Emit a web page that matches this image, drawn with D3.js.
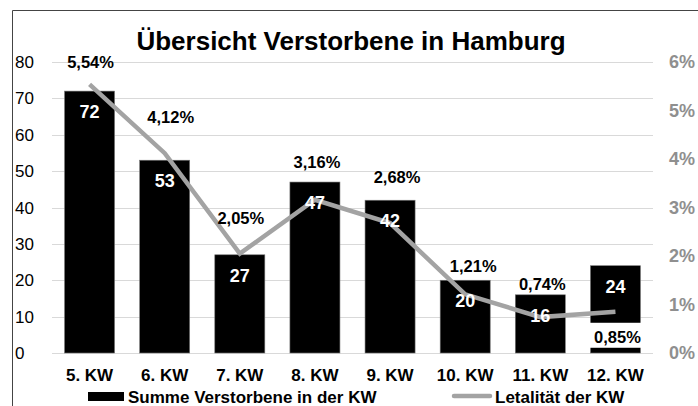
<!DOCTYPE html>
<html lang="de">
<head>
<meta charset="utf-8">
<script src="https://d3js.org/d3.v7.min.js"></script>
<style>
  body { margin: 0; background: #fff; }
  text { font-family: "Liberation Sans", Arial, sans-serif; }
</style>
</head>
<body>
<script>
  // data
  var categories = ['5. KW', '6. KW', '7. KW', '8. KW', '9. KW', '10. KW', '11. KW', '12. KW'];
  var deaths = [72, 53, 27, 47, 42, 20, 16, 24];
  var letality = [5.54, 4.12, 2.05, 3.16, 2.68, 1.21, 0.74, 0.85];
  var leftTicks = [0, 10, 20, 30, 40, 50, 60, 70, 80];
  var rightTicks = [0, 1, 2, 3, 4, 5, 6];

  // hand placed label offsets (like the original excel chart)
  var pctDy = [-22, -36, -36, -38, -46, -28, -33, 25];
  var pctDx = [1, 6, 1, 2, 7, 8, 2, 2];

  var width = 698, height = 406;
  var svg = d3.select('body').append('svg')
    .attr('width', width)
    .attr('height', height);

  var x = d3.scaleBand().domain(categories).range([52, 653])
    .paddingInner(0.334).paddingOuter(0.167);
  var y = d3.scaleLinear().domain([0, 80]).range([353, 62]);
  var y2 = d3.scaleLinear().domain([0, 6]).range([353, 62]);

  // frame (only top and left visible)
  svg.append('line').attr('x1', 12.5).attr('x2', width).attr('y1', 10.5).attr('y2', 10.5)
    .attr('stroke', '#444').attr('stroke-width', 1);
  svg.append('line').attr('x1', 12.5).attr('x2', 12.5).attr('y1', 10.5).attr('y2', height)
    .attr('stroke', '#444').attr('stroke-width', 1);

  // title
  svg.append('text').attr('x', 351).attr('y', 50)
    .attr('text-anchor', 'middle')
    .style('font-size', '26px').style('font-weight', 'bold')
    .text('Übersicht Verstorbene in Hamburg');

  // grid
  svg.append('g').selectAll('line').data(leftTicks).join('line')
    .attr('x1', 52).attr('x2', 653)
    .attr('y1', function(d) { return Math.round(y(d)) + 0.5; })
    .attr('y2', function(d) { return Math.round(y(d)) + 0.5; })
    .attr('stroke', '#d9d9d9');

  // left axis labels
  svg.append('g').selectAll('text').data(leftTicks).join('text')
    .attr('x', 15)
    .attr('y', function(d) { return y(d) + 6; })
    .style('font-size', '17px')
    .text(function(d) { return d; });

  // right axis labels
  svg.append('g').selectAll('text').data(rightTicks).join('text')
    .attr('x', 669)
    .attr('y', function(d) { return y2(d) + 6; })
    .style('font-size', '18px').style('font-weight', 'bold')
    .attr('fill', '#8f8f8f')
    .text(function(d) { return d + '%'; });

  // bars
  svg.append('g').selectAll('rect').data(deaths).join('rect')
    .attr('x', function(d, i) { return x(categories[i]); })
    .attr('y', function(d) { return y(d); })
    .attr('width', x.bandwidth())
    .attr('height', function(d) { return y(0) - y(d); })
    .attr('fill', '#000')
    .attr('stroke', '#777').attr('stroke-width', 0.6);

  // line
  var line = d3.line()
    .x(function(d, i) { return x(categories[i]) + x.bandwidth() / 2; })
    .y(function(d) { return y2(d); });
  svg.append('path').datum(letality)
    .attr('d', line)
    .attr('fill', 'none')
    .attr('stroke', '#a3a3a3')
    .attr('stroke-width', 4.5);

  // bar value labels (drawn above the line)
  svg.append('g').selectAll('text').data(deaths).join('text')
    .attr('x', function(d, i) { return x(categories[i]) + x.bandwidth() / 2; })
    .attr('y', function(d) { return y(d) + 27; })
    .attr('text-anchor', 'middle')
    .attr('fill', '#fff')
    .style('font-size', '18px').style('font-weight', 'bold')
    .text(function(d) { return d; });

  // white background for the label that sits on a bar
  var last = letality.length - 1;
  svg.append('rect')
    .attr('x', x(categories[last]) - 1)
    .attr('y', y2(letality[last]) + pctDy[last] - 14)
    .attr('width', x.bandwidth() + 2)
    .attr('height', 25)
    .attr('fill', '#fff');

  // percent labels
  svg.append('g').selectAll('text').data(letality).join('text')
    .attr('x', function(d, i) { return x(categories[i]) + x.bandwidth() / 2 + pctDx[i]; })
    .attr('y', function(d, i) { return y2(d) + pctDy[i] + 6; })
    .attr('text-anchor', 'middle')
    .style('font-size', '16.5px').style('font-weight', 'bold')
    .text(function(d) { return d.toFixed(2).replace('.', ',') + '%'; });

  // category labels
  svg.append('g').selectAll('text').data(categories).join('text')
    .attr('x', function(d) { return x(d) + x.bandwidth() / 2; })
    .attr('y', 381)
    .attr('text-anchor', 'middle')
    .style('font-size', '17px').style('font-weight', 'bold')
    .text(function(d) { return d; });

  // legend
  svg.append('rect').attr('x', 88).attr('y', 392).attr('width', 36).attr('height', 9).attr('fill', '#000');
  svg.append('text').attr('x', 128).attr('y', 403)
    .style('font-size', '17px').style('font-weight', 'bold')
    .text('Summe Verstorbene in der KW');
  svg.append('line').attr('x1', 454).attr('x2', 490).attr('y1', 396).attr('y2', 396)
    .attr('stroke', '#a3a3a3').attr('stroke-width', 4.5).attr('stroke-linecap', 'round');
  svg.append('text').attr('x', 495).attr('y', 403)
    .style('font-size', '17px').style('font-weight', 'bold')
    .text('Letalität der KW');
</script>
</body>
</html>
